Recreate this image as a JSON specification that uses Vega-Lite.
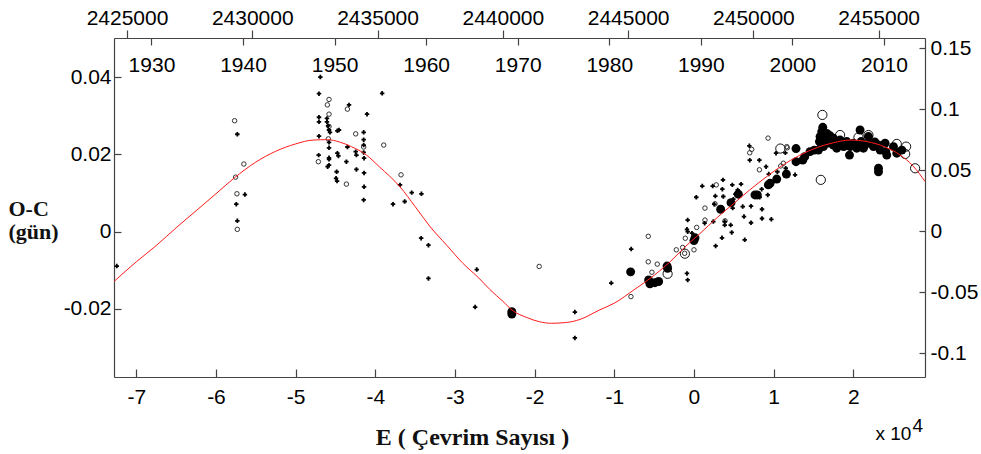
{
  "$schema": "https://vega.github.io/schema/vega-lite/v6.json",
  "autosize": {"type": "none"},
  "padding": {"left": 114, "top": 38, "right": 56, "bottom": 77},
  "width": 811,
  "height": 339,
  "background": "white",
  "config": {"view": {"stroke": null}, "axis": {"grid": false}},
  "datasets": {
    "arti": [
      {"E": -7.245, "OC": -0.0089}, {"E": -5.732, "OC": 0.0252}, {"E": -5.637, "OC": 0.0096}, {"E": -5.745, "OC": 0.0071}, {"E": -5.732, "OC": 0.0028},
      {"E": -4.690, "OC": 0.0400}, {"E": -4.707, "OC": 0.0357}, {"E": -4.330, "OC": 0.0328}, {"E": -3.914, "OC": 0.0358}, {"E": -4.104, "OC": 0.0304},
      {"E": -4.707, "OC": 0.0296}, {"E": -4.707, "OC": 0.0284}, {"E": -4.607, "OC": 0.0293}, {"E": -4.607, "OC": 0.0284}, {"E": -4.593, "OC": 0.0274},
      {"E": -4.581, "OC": 0.0263}, {"E": -4.569, "OC": 0.0257}, {"E": -4.476, "OC": 0.0261}, {"E": -4.456, "OC": 0.0263}, {"E": -4.146, "OC": 0.0257},
      {"E": -4.146, "OC": 0.0238}, {"E": -4.707, "OC": 0.0247}, {"E": -4.581, "OC": 0.0231}, {"E": -4.581, "OC": 0.0217}, {"E": -4.350, "OC": 0.0219},
      {"E": -4.146, "OC": 0.0224}, {"E": -4.146, "OC": 0.0205}, {"E": -4.246, "OC": 0.0207}, {"E": -4.237, "OC": 0.0198}, {"E": -4.476, "OC": 0.0203},
      {"E": -4.463, "OC": 0.0196}, {"E": -4.711, "OC": 0.0198}, {"E": -4.581, "OC": 0.0191}, {"E": -4.581, "OC": 0.0187}, {"E": -4.581, "OC": 0.0172},
      {"E": -4.598, "OC": 0.0168}, {"E": -4.363, "OC": 0.0181}, {"E": -4.141, "OC": 0.0190}, {"E": -4.237, "OC": 0.0161}, {"E": -4.485, "OC": 0.0155},
      {"E": -4.141, "OC": 0.0152}, {"E": -4.493, "OC": 0.0138}, {"E": -4.480, "OC": 0.0131}, {"E": -3.690, "OC": 0.0121}, {"E": -3.543, "OC": 0.0101},
      {"E": -3.421, "OC": 0.0098}, {"E": -4.141, "OC": 0.0116}, {"E": -4.146, "OC": 0.0082}, {"E": -3.778, "OC": 0.0071}, {"E": -3.631, "OC": 0.0078},
      {"E": -3.425, "OC": -0.0017}, {"E": -3.333, "OC": -0.0035}, {"E": -3.333, "OC": -0.0121}, {"E": -2.726, "OC": -0.0098}, {"E": -2.747, "OC": -0.0195},
      {"E": -1.495, "OC": -0.0208}, {"E": -1.495, "OC": -0.0275}, {"E": -1.038, "OC": -0.0133},
      {"E": 0.029, "OC": 0.0089}, {"E": -0.079, "OC": 0.0030}, {"E": -0.088, "OC": 0.0006}, {"E": -0.079, "OC": 0.0000}, {"E": -0.025, "OC": -0.0004},
      {"E": -0.788, "OC": -0.0045}, {"E": -0.088, "OC": -0.0108}, {"E": -0.079, "OC": -0.0125}, {"E": -0.553, "OC": -0.0128},
      {"E": 0.272, "OC": -0.0037}, {"E": 0.352, "OC": -0.0016}, {"E": 0.134, "OC": 0.0022}, {"E": 0.243, "OC": 0.0026}, {"E": 0.386, "OC": 0.0026},
      {"E": 0.386, "OC": 0.0017}, {"E": 0.474, "OC": -0.0002}, {"E": 0.461, "OC": 0.0017}, {"E": 0.637, "OC": -0.0021}, {"E": 0.104, "OC": 0.0118},
      {"E": 0.235, "OC": 0.0118}, {"E": 0.364, "OC": 0.0134}, {"E": 0.268, "OC": 0.0092}, {"E": 0.255, "OC": 0.0071}, {"E": 0.356, "OC": 0.0110},
      {"E": 0.481, "OC": 0.0121}, {"E": 0.591, "OC": 0.0123}, {"E": 0.368, "OC": 0.0091}, {"E": 0.494, "OC": 0.0084}, {"E": 0.519, "OC": 0.0097},
      {"E": 0.549, "OC": 0.0108}, {"E": 0.486, "OC": 0.0061}, {"E": 0.612, "OC": 0.0065}, {"E": 0.716, "OC": 0.0066}, {"E": 0.628, "OC": 0.0039},
      {"E": 0.854, "OC": 0.0058}, {"E": 0.716, "OC": 0.0023}, {"E": 0.854, "OC": 0.0034}, {"E": 0.971, "OC": 0.0032}, {"E": 0.825, "OC": 0.0089},
      {"E": 0.850, "OC": 0.0110}, {"E": 0.926, "OC": 0.0095}, {"E": 0.821, "OC": 0.0185}, {"E": 0.939, "OC": 0.0149}, {"E": 0.905, "OC": 0.0168},
      {"E": 0.700, "OC": 0.0185}, {"E": 0.695, "OC": 0.0222}, {"E": 1.030, "OC": 0.0203}, {"E": 1.147, "OC": 0.0204}, {"E": 1.047, "OC": 0.0155},
      {"E": 1.152, "OC": 0.0164}, {"E": 1.269, "OC": 0.0147}
    ],
    "acik": [
      {"E": -5.766, "OC": 0.0287}, {"E": -5.650, "OC": 0.0175}, {"E": -5.754, "OC": 0.0141}, {"E": -5.737, "OC": 0.0098}, {"E": -5.732, "OC": 0.0006},
      {"E": -4.581, "OC": 0.0342}, {"E": -4.602, "OC": 0.0328}, {"E": -4.350, "OC": 0.0317}, {"E": -4.581, "OC": 0.0304}, {"E": -4.581, "OC": 0.0272},
      {"E": -4.246, "OC": 0.0253}, {"E": -4.589, "OC": 0.0240}, {"E": -4.146, "OC": 0.0219}, {"E": -3.894, "OC": 0.0224}, {"E": -4.715, "OC": 0.0181},
      {"E": -4.363, "OC": 0.0123}, {"E": -3.677, "OC": 0.0147}, {"E": -1.943, "OC": -0.0090}, {"E": -0.791, "OC": -0.0168},
      {"E": 0.034, "OC": 0.0011}, {"E": -0.109, "OC": -0.0017}, {"E": -0.222, "OC": -0.0047}, {"E": -0.142, "OC": -0.0041}, {"E": -0.117, "OC": -0.0056},
      {"E": 0.000, "OC": -0.0047}, {"E": -0.574, "OC": -0.0012}, {"E": -0.574, "OC": -0.0078}, {"E": -0.461, "OC": -0.0084}, {"E": -0.528, "OC": -0.0105},
      {"E": 0.138, "OC": 0.0030}, {"E": 0.390, "OC": 0.0028}, {"E": 0.280, "OC": 0.0121}, {"E": 0.138, "OC": 0.0061}, {"E": 0.264, "OC": 0.0072},
      {"E": 0.821, "OC": 0.0160}, {"E": 0.700, "OC": 0.0204}, {"E": 0.725, "OC": 0.0213}, {"E": 0.930, "OC": 0.0242}, {"E": 1.089, "OC": 0.0170},
      {"E": 1.164, "OC": 0.0220}, {"E": 1.172, "OC": 0.0217}, {"E": 1.122, "OC": 0.0177}
    ],
    "buyuk": [
      {"E": -2.286, "OC": -0.0213}, {"E": -2.286, "OC": -0.0207},
      {"E": -0.331, "OC": -0.0095}, {"E": -0.338, "OC": -0.0089}, {"E": -0.795, "OC": -0.0104}, {"E": -0.553, "OC": -0.0135}, {"E": -0.444, "OC": -0.0129},
      {"E": -0.569, "OC": -0.0125}, {"E": -0.490, "OC": -0.0132}, {"E": 0.000, "OC": -0.0023}, {"E": 0.013, "OC": -0.0016},
      {"E": 0.335, "OC": 0.0058}, {"E": 0.465, "OC": 0.0075}, {"E": 0.557, "OC": 0.0097}, {"E": 0.766, "OC": 0.0095}, {"E": 0.795, "OC": 0.0095},
      {"E": 0.934, "OC": 0.0121}, {"E": 0.955, "OC": 0.0125}, {"E": 1.039, "OC": 0.0136}, {"E": 1.160, "OC": 0.0149}, {"E": 1.281, "OC": 0.0215},
      {"E": 1.281, "OC": 0.0181}, {"E": 1.365, "OC": 0.0185}, {"E": 1.390, "OC": 0.0194}, {"E": 1.457, "OC": 0.0207}, {"E": 1.511, "OC": 0.0211},
      {"E": 1.617, "OC": 0.0270}, {"E": 1.604, "OC": 0.0259}, {"E": 1.583, "OC": 0.0246}, {"E": 1.575, "OC": 0.0233}, {"E": 1.633, "OC": 0.0237},
      {"E": 1.667, "OC": 0.0254}, {"E": 1.709, "OC": 0.0248}, {"E": 1.750, "OC": 0.0242}, {"E": 1.688, "OC": 0.0229}, {"E": 1.750, "OC": 0.0224},
      {"E": 1.792, "OC": 0.0216}, {"E": 1.625, "OC": 0.0220}, {"E": 1.562, "OC": 0.0211}, {"E": 1.600, "OC": 0.0225}, {"E": 1.650, "OC": 0.0230},
      {"E": 1.720, "OC": 0.0232}, {"E": 1.834, "OC": 0.0237}, {"E": 1.860, "OC": 0.0228}, {"E": 1.880, "OC": 0.0220},
      {"E": 1.918, "OC": 0.0233}, {"E": 1.960, "OC": 0.0220}, {"E": 1.952, "OC": 0.0198}, {"E": 2.002, "OC": 0.0229}, {"E": 2.044, "OC": 0.0216},
      {"E": 2.085, "OC": 0.0263}, {"E": 2.098, "OC": 0.0233}, {"E": 2.127, "OC": 0.0216}, {"E": 2.150, "OC": 0.0225}, {"E": 2.190, "OC": 0.0246},
      {"E": 2.211, "OC": 0.0229}, {"E": 2.253, "OC": 0.0220}, {"E": 2.270, "OC": 0.0232}, {"E": 2.316, "OC": 0.0224}, {"E": 2.337, "OC": 0.0211},
      {"E": 2.399, "OC": 0.0229}, {"E": 2.408, "OC": 0.0207}, {"E": 2.420, "OC": 0.0198}, {"E": 2.504, "OC": 0.0220}, {"E": 2.546, "OC": 0.0203},
      {"E": 2.609, "OC": 0.0211}, {"E": 2.316, "OC": 0.0164}, {"E": 2.316, "OC": 0.0155}
    ],
    "buyukAcik": [
      {"E": -0.331, "OC": -0.0109}, {"E": -0.114, "OC": -0.0057}, {"E": 1.084, "OC": 0.0215}, {"E": 1.592, "OC": 0.0134}, {"E": 1.612, "OC": 0.0302},
      {"E": 1.834, "OC": 0.0250}, {"E": 2.065, "OC": 0.0244}, {"E": 2.190, "OC": 0.0250}, {"E": 2.546, "OC": 0.0227}, {"E": 2.663, "OC": 0.0220},
      {"E": 2.651, "OC": 0.0201}, {"E": 2.776, "OC": 0.0164}
    ],
    "egri": [
      {"E": -7.28, "OC": -0.0129}, {"E": -7.0, "OC": -0.0078}, {"E": -6.75, "OC": -0.0036}, {"E": -6.5, "OC": 0.0010}, {"E": -6.25, "OC": 0.0054},
      {"E": -6.0, "OC": 0.0098}, {"E": -5.77, "OC": 0.0139}, {"E": -5.5, "OC": 0.0180}, {"E": -5.25, "OC": 0.0208}, {"E": -5.0, "OC": 0.0227},
      {"E": -4.78, "OC": 0.0237}, {"E": -4.6, "OC": 0.0238}, {"E": -4.45, "OC": 0.0232}, {"E": -4.3, "OC": 0.0220}, {"E": -4.11, "OC": 0.0198},
      {"E": -3.95, "OC": 0.0168}, {"E": -3.69, "OC": 0.0116}, {"E": -3.5, "OC": 0.0065}, {"E": -3.32, "OC": 0.0015}, {"E": -3.1, "OC": -0.0036},
      {"E": -2.9, "OC": -0.0082}, {"E": -2.7, "OC": -0.0120}, {"E": -2.56, "OC": -0.0150}, {"E": -2.4, "OC": -0.0180}, {"E": -2.27, "OC": -0.0205},
      {"E": -2.1, "OC": -0.0222}, {"E": -1.94, "OC": -0.0233}, {"E": -1.79, "OC": -0.0237}, {"E": -1.6, "OC": -0.0235}, {"E": -1.43, "OC": -0.0227},
      {"E": -1.18, "OC": -0.0202}, {"E": -1.0, "OC": -0.0185}, {"E": -0.75, "OC": -0.0150}, {"E": -0.5, "OC": -0.0113}, {"E": -0.3, "OC": -0.0078},
      {"E": -0.1, "OC": -0.0037}, {"E": 0.075, "OC": -0.0005}, {"E": 0.3, "OC": 0.0038}, {"E": 0.5, "OC": 0.0073}, {"E": 0.7, "OC": 0.0108},
      {"E": 0.91, "OC": 0.0142}, {"E": 1.1, "OC": 0.0170}, {"E": 1.33, "OC": 0.0198}, {"E": 1.55, "OC": 0.0218}, {"E": 1.75, "OC": 0.0230},
      {"E": 1.96, "OC": 0.0237}, {"E": 2.17, "OC": 0.0233}, {"E": 2.4, "OC": 0.0219}, {"E": 2.59, "OC": 0.0198}, {"E": 2.75, "OC": 0.0170},
      {"E": 2.90, "OC": 0.0130}
    ],
    "sag": [{"R": -0.1194}, {"R": 0.1584}],
    "jd": [{"JD": 2424481}, {"JD": 2456849}],
    "yil": [{"Yil": 1925.91}, {"Yil": 2014.48}]
  },
  "layer": [
    {
      "encoding": {
        "x": {
          "field": "E", "type": "quantitative",
          "scale": {"domain": [-7.28, 2.9], "nice": false, "zero": false},
          "axis": {
            "orient": "bottom", "values": [-7, -6, -5, -4, -3, -2, -1, 0, 1, 2],
            "labelExpr": "'' + datum.value",
            "tickSize": -8, "labelPadding": 17, "labelFont": "Liberation Sans", "labelFontSize": 21, "labelColor": "#000",
            "domainColor": "#444", "tickColor": "#444", "domainWidth": 1.2, "tickWidth": 1.2,
            "title": "E ( Çevrim Sayısı )", "titleFont": "Times New Roman, Liberation Serif, serif", "titleFontWeight": "bold", "titleFontSize": 24,
            "titleColor": "#111", "titleX": 358, "titleY": 67, "titleAlign": "center", "titleBaseline": "alphabetic"
          }
        },
        "y": {
          "field": "OC", "type": "quantitative",
          "scale": {"domain": [-0.0376, 0.0501], "nice": false, "zero": false},
          "axis": {
            "orient": "left", "values": [-0.02, 0, 0.02, 0.04],
            "labelExpr": "'' + datum.value",
            "tickSize": -7, "labelPadding": 10, "labelFont": "Liberation Sans", "labelFontSize": 21, "labelColor": "#000",
            "domainColor": "#444", "tickColor": "#444", "domainWidth": 1.2, "tickWidth": 1.2,
            "title": ["O-C", "(gün)"], "titleFont": "Times New Roman, Liberation Serif, serif", "titleFontWeight": "bold", "titleFontSize": 22,
            "titleColor": "#111", "titleAngle": 0, "titleAlign": "left", "titleBaseline": "alphabetic",
            "titleX": -106, "titleY": 177, "titleLineHeight": 23
          }
        }
      },
      "layer": [
        {"data": {"name": "buyukAcik"}, "mark": {"type": "point", "shape": "circle", "filled": false, "stroke": "#111", "strokeWidth": 1, "size": 85, "opacity": 1}},
        {"data": {"name": "buyuk"}, "mark": {"type": "point", "shape": "circle", "filled": true, "fill": "#000", "size": 80, "opacity": 1}},
        {"data": {"name": "acik"}, "mark": {"type": "point", "shape": "circle", "filled": false, "stroke": "#333", "strokeWidth": 1, "size": 20, "opacity": 1}},
        {"data": {"name": "arti"}, "mark": {"type": "point", "shape": "cross", "filled": true, "fill": "#000", "size": 20, "opacity": 1}},
        {"data": {"name": "egri"}, "mark": {"type": "line", "color": "#ff1a1a", "strokeWidth": 1, "interpolate": "monotone"}}
      ]
    },
    {
      "data": {"name": "sag"},
      "mark": {"type": "rule", "opacity": 0},
      "encoding": {
        "y": {
          "field": "R", "type": "quantitative",
          "scale": {"domain": [-0.1194, 0.1584], "nice": false, "zero": false},
          "axis": {
            "orient": "right", "values": [-0.1, -0.05, 0, 0.05, 0.1, 0.15],
            "labelExpr": "'' + datum.value",
            "tickSize": -6, "labelPadding": 11, "labelFont": "Liberation Sans", "labelFontSize": 21, "labelColor": "#000",
            "domainColor": "#444", "tickColor": "#444", "domainWidth": 1.2, "tickWidth": 1.2,
            "title": "x 10", "titleFont": "Liberation Sans", "titleFontWeight": "normal", "titleFontSize": 19, "titleColor": "#000",
            "titleAngle": 0, "titleAlign": "left", "titleBaseline": "alphabetic", "titleX": -50, "titleY": 401
          }
        }
      }
    },
    {
      "data": {"name": "jd"},
      "mark": {"type": "rule", "opacity": 0},
      "encoding": {
        "x": {
          "field": "JD", "type": "quantitative",
          "scale": {"domain": [2424481, 2456849], "nice": false, "zero": false},
          "axis": {
            "orient": "top", "values": [2425000, 2430000, 2435000, 2440000, 2445000, 2450000, 2455000],
            "labelExpr": "'' + datum.value",
            "tickSize": 8, "labelPadding": 2, "labelFont": "Liberation Sans", "labelFontSize": 21, "labelColor": "#000",
            "domainColor": "#444", "tickColor": "#444", "domainWidth": 1.2, "tickWidth": 1.2,
            "title": "4", "titleFont": "Liberation Sans", "titleFontWeight": "normal", "titleFontSize": 19, "titleColor": "#000",
            "titleAngle": 0, "titleAlign": "left", "titleBaseline": "alphabetic", "titleX": 798, "titleY": 393
          }
        }
      }
    },
    {
      "data": {"name": "yil"},
      "mark": {"type": "rule", "opacity": 0},
      "encoding": {
        "x": {
          "field": "Yil", "type": "quantitative",
          "scale": {"domain": [1925.91, 2014.48], "nice": false, "zero": false},
          "axis": {
            "orient": "bottom", "offset": -339, "values": [1930, 1940, 1950, 1960, 1970, 1980, 1990, 2000, 2010],
            "labelExpr": "'' + datum.value", "domain": false,
            "tickSize": 7, "labelPadding": 9, "labelFont": "Liberation Sans", "labelFontSize": 21, "labelColor": "#000",
            "tickColor": "#444", "tickWidth": 1.2, "title": null
          }
        }
      }
    }
  ],
  "resolve": {"scale": {"x": "independent", "y": "independent"}, "axis": {"x": "independent", "y": "independent"}}
}
